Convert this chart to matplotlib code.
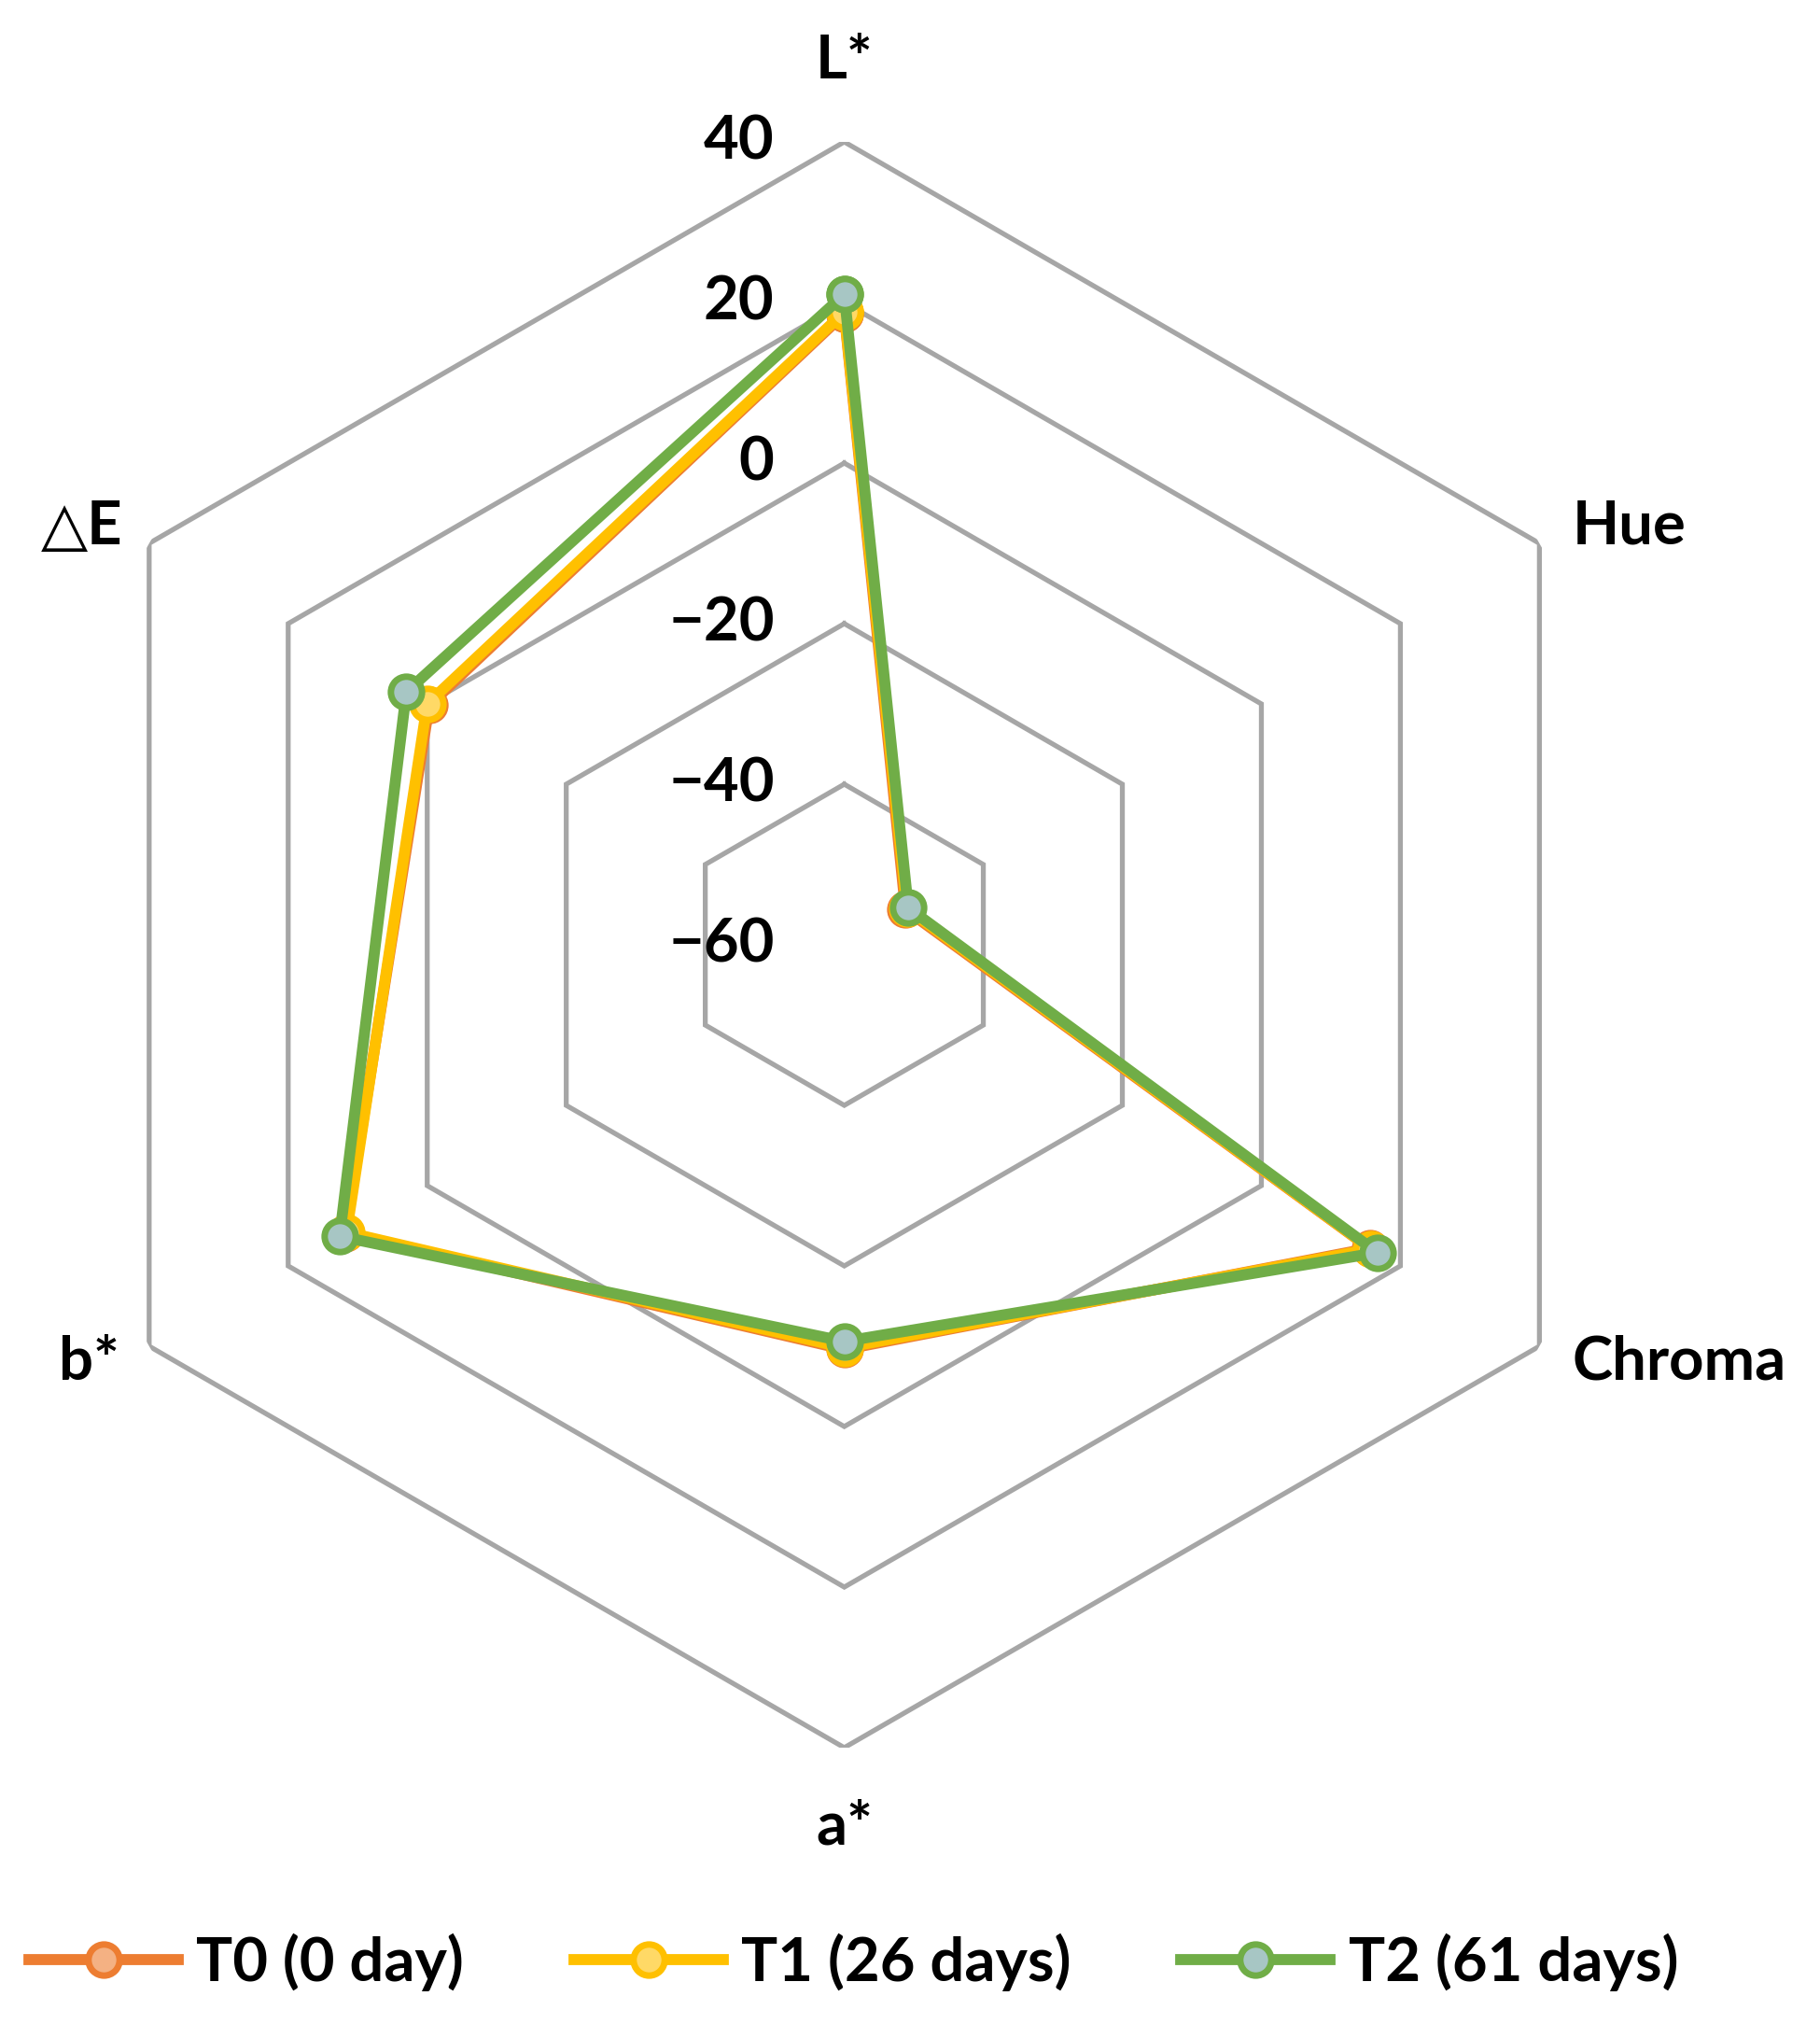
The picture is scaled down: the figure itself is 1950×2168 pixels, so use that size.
import numpy as np
import matplotlib
matplotlib.use("Agg")
import matplotlib.pyplot as plt

plt.rcParams['font.family'] = ['Lato', 'DejaVu Sans']
plt.rcParams['font.weight'] = 'bold'

categories = ["L*", "Hue", "Chroma", "a*", "b*", "\u25b3E"]
series_names = ["T0 (0 day)", "T1 (26 days)", "T2 (61 days)"]
t0_values = [18.6, -51.2, 15.6, -9.6, 11.8, -0.3]
t1_values = [18.8, -51.0, 15.8, -9.8, 11.6, 0.0]
t2_values = [21.0, -50.8, 16.7, -10.6, 12.6, 3.0]
tick_values = [40, 20, 0, -20, -40, -60]
tick_labels = ["40", "20", "0", "\u221220", "\u221240", "\u221260"]

line_colors = ["#ED7D31", "#FFC000", "#70AD47"]
fill_colors = ["#F4B183", "#FFD966", "#A7C6C4"]

FS = 47
W, H = 1950, 2168
fig = plt.figure(figsize=(W / 100, H / 100), dpi=100)
cx, cy, R = 904.6, 1012, 860
ax = fig.add_axes([(cx - R) / W, (H - cy - R) / H, 2 * R / W, 2 * R / H], projection='polar')
ax.set_theta_offset(np.pi / 2)
ax.set_theta_direction(-1)
ax.set_ylim(-60, 40)
ax.grid(False)
ax.set_xticks([])
ax.set_yticks([])
ax.spines['polar'].set_visible(False)
ax.patch.set_visible(False)

n = len(categories)
angles = np.linspace(0, 2 * np.pi, n, endpoint=False)
closed = np.concatenate([angles, angles[:1]])

# hexagonal grid
for v in tick_values[:-1]:
    ax.plot(closed, [v] * (n + 1), color="#A6A6A6", lw=3.8, zorder=1, solid_joinstyle='miter')

for v, lab in zip(tick_values, tick_labels):
    ax.annotate(lab, xy=(0, v), xytext=(-75, 0), textcoords='offset pixels',
                ha='right', va='center', fontsize=FS, fontweight='bold', annotation_clip=False)

offsets = [(0, 86, 'center', 'center'), (35, 18, 'left', 'center'), (35, -17, 'left', 'center'),
           (0, -85, 'center', 'center'), (-32, -17, 'right', 'center'), (-28, 18, 'right', 'center')]
for ang, lab, (dx, dy, ha, va) in zip(angles, categories, offsets):
    ax.annotate(lab, xy=(ang, 40), xytext=(dx, dy), textcoords='offset pixels',
                ha=ha, va=va, fontsize=FS, fontweight='bold', annotation_clip=False)

handles = []
for vals, lc, fc, name, z in zip([t0_values, t1_values, t2_values], line_colors, fill_colors, series_names, [3, 4, 5]):
    vv = list(vals) + [vals[0]]
    ln, = ax.plot(closed, vv, color=lc, lw=8.5, marker='o', markersize=24, markerfacecolor=fc,
                  markeredgecolor=lc, markeredgewidth=5, zorder=z, clip_on=False, label=name)
    handles.append(ln)

leg = fig.legend(handles=handles, loc='center', bbox_to_anchor=(0.469, 1 - 2102 / H), ncol=3,
                 frameon=False, handlelength=2.45, handletextpad=0.3, columnspacing=1.8,
                 prop={'weight': 'bold', 'size': FS})

fig.savefig("out.png", dpi=100, facecolor='white')
